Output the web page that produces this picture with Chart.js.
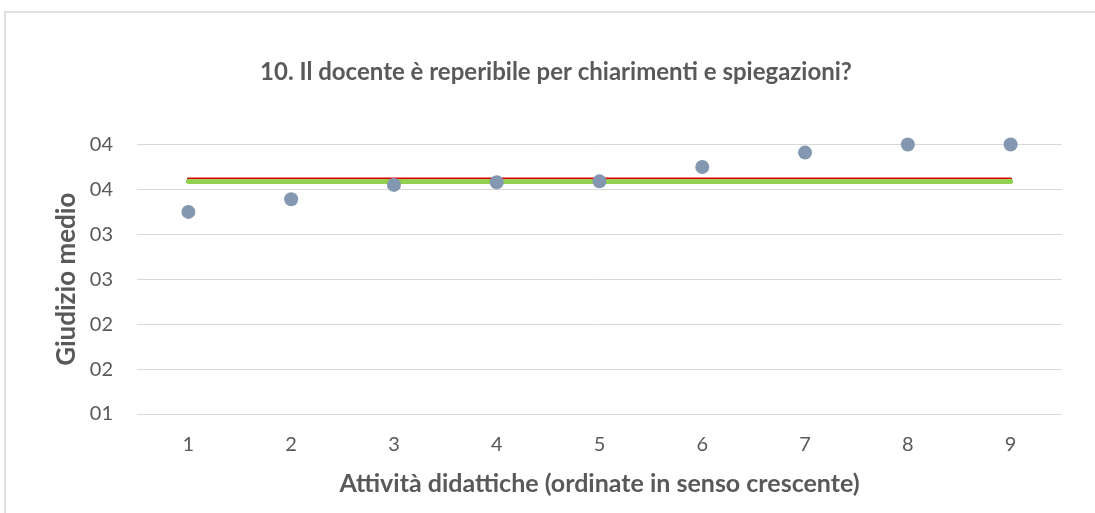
<!DOCTYPE html>
<html><head><meta charset="utf-8">
<script src="https://cdn.jsdelivr.net/npm/chart.js@4"></script>
<style>
html,body{margin:0;padding:0;background:#fff;}
#wrap{position:relative;width:1095px;height:513px;overflow:hidden;}
#frame{position:absolute;left:4px;top:11px;width:1200px;height:600px;border:2px solid #e0e0e0;box-sizing:border-box;}
#c{position:absolute;left:0;top:0;}
</style></head><body>
<div id="wrap"><div id="frame"></div><canvas id="c" width="1095" height="513" style="width:1095px;height:513px"></canvas></div>
<script>
const categories = ['1','2','3','4','5','6','7','8','9'];
const scores = [3.25, 3.39, 3.55, 3.58, 3.59, 3.75, 3.91, 4.00, 4.00];
const refRed = [3.615, 3.615, 3.615, 3.615, 3.615, 3.615, 3.615, 3.615, 3.615];
const refGreen = [3.587, 3.587, 3.587, 3.587, 3.587, 3.587, 3.587, 3.587, 3.587];
const yTickValues = [1, 1.5, 2, 2.5, 3, 3.5, 4];
const titleText = '10. Il docente è reperibile per chiarimenti e spiegazioni?';
const xTitle = 'Attività didattiche (ordinate in senso crescente)';
const yTitle = 'Giudizio medio';

const FONT = 'Lato';
const TXT = '#595959';

const titlePlugin = {
  id: 'customTitle',
  afterDraw(chart) {
    const ctx = chart.ctx;
    ctx.save();
    ctx.font = 'bold 24px ' + FONT;
    ctx.fillStyle = TXT;
    ctx.textAlign = 'center';
    ctx.textBaseline = 'middle';
    ctx.fillText(titleText, 556, 72);
    ctx.restore();
  }
};

new Chart(document.getElementById('c'), {
  type: 'line',
  data: {
    labels: categories,
    datasets: [
      { data: scores, showLine: false, pointRadius: 7, pointBackgroundColor: '#8497b0', pointBorderWidth: 0, clip: false },
      { data: refGreen, borderColor: '#92d050', borderWidth: 5, pointRadius: 0, borderCapStyle: 'round', clip: false },
      { data: refRed, borderColor: '#e00000', borderWidth: 3, pointRadius: 0, borderCapStyle: 'round', clip: false }
    ]
  },
  plugins: [titlePlugin],
  options: {
    responsive: false,
    animation: false,
    events: [],
    devicePixelRatio: 1,
    layout: { padding: { left: 0, right: 33, top: 144.5, bottom: 0 } },
    plugins: {
      legend: { display: false },
      tooltip: { enabled: false },
      title: { display: false }
    },
    scales: {
      x: {
        offset: true,
        grid: { display: false, drawTicks: false },
        border: { display: false },
        ticks: { color: TXT, font: { family: FONT, size: 20 }, padding: 19 },
        title: { display: true, text: xTitle, color: TXT, font: { family: FONT, size: 25, weight: 'bold' }, padding: { top: 0, bottom: 14 } },
        afterFit: s => { s.height = 99; }
      },
      y: {
        min: 1, max: 4,
        afterBuildTicks: s => { s.ticks = yTickValues.map(v => ({ value: v })); },
        grid: { color: '#d9d9d9', lineWidth: 1, drawTicks: false },
        border: { display: false },
        ticks: {
          color: TXT, font: { family: FONT, size: 20 }, padding: 24,
          callback: v => String(Math.round(v)).padStart(2, '0')
        },
        title: { display: true, text: yTitle, color: TXT, font: { family: FONT, size: 26, weight: 'bold' }, padding: { top: 51, bottom: 0 } },
        afterFit: s => { s.width = 137; }
      }
    }
  }
});
</script>
</body></html>
